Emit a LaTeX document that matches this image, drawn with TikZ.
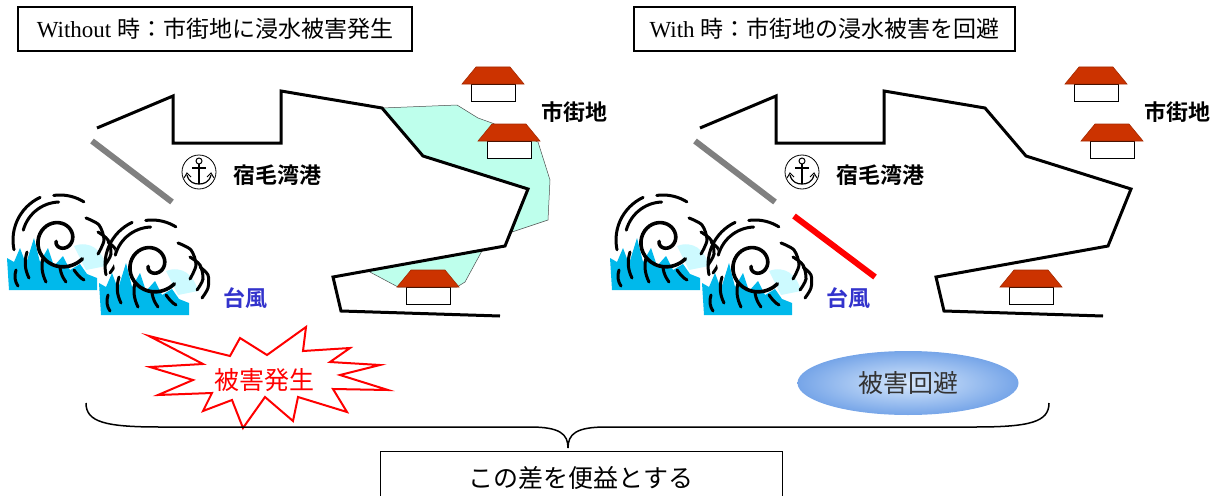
\documentclass[tikz,border=0pt]{standalone}
\usepackage{fontspec}
\setmainfont{Liberation Serif}
\newfontfamily\jp{Noto Sans CJK JP}
\newfontfamily\jpbold{Noto Sans CJK JP Bold}
\usepackage{tikz}
\usetikzlibrary{shapes.geometric}

\definecolor{roofred}{RGB}{204,51,0}
\definecolor{floodcyan}{RGB}{190,255,236}
\definecolor{seablue}{RGB}{0,185,235}
\definecolor{foamcyan}{RGB}{205,250,255}
\definecolor{typhoonblue}{RGB}{51,51,204}
\definecolor{gatebar}{RGB}{128,128,128}

\begin{document}
\begin{tikzpicture}[
  x=1pt, y=-1pt,
  titlebox/.style={draw, line width=1.2pt, minimum height=44, inner sep=0pt, font=\fontsize{23}{27}\selectfont},
  coast/.style={line width=3pt, line join=miter},
  breakwater/.style={line width=6pt},
  flood/.style={fill=floodcyan, draw=black!70, line width=0.5pt},
  place/.style={font=\jpbold\fontsize{22}{26}\selectfont},
  wavestroke/.style={line width=3pt, line cap=round},
  house/.pic={
    \draw[fill=white, line width=0.8pt] (-22,0) rectangle (22,17);
    \fill[roofred, draw=roofred!80!black, line width=0.6pt] (-31,0) -- (31,0) -- (17,-17) -- (-17,-17) -- cycle;
  },
  harbour/.pic={
    \draw[line width=0.8pt, fill=white] (0,0) circle[radius=17];
    \draw[line width=1pt] (0,-11) circle[radius=3];
    \draw[line width=1.3pt] (0,-8) -- (0,12);
    \draw[line width=1.3pt] (-7,-4) -- (7,-4);
    \draw[line width=1.2pt] (-12,3) .. controls (-10,11) and (-4,12) .. (0,12) .. controls (4,12) and (10,11) .. (12,3);
    \draw[line width=1pt] (-15,6) -- (-12,1) -- (-8,5);
    \draw[line width=1pt] (15,6) -- (12,1) -- (8,5);
  },
  wave/.pic={
    % white curl behind the strokes
    \fill[white] (2,-4) circle[radius=40];
    % sea
    \fill[seablue] (-51,50) -- (-53,18) -- (-46,22) -- (-40,8) -- (-34,24) -- (-26,-2) -- (-20,22)
      -- (-12,8) -- (-6,26) -- (3,16) -- (10,30) -- (20,24) -- (27,34) -- (37,38) -- (37,50) -- cycle;
    \fill[foamcyan] (14,6) .. controls (30,0) and (42,10) .. (46,26) -- (26,30) -- cycle;
    % curl
    \draw[wavestroke, line width=3.6pt] plot[smooth, domain=0:480, samples=50] ({(4+\x/19)*cos(\x+200)}, {-(4+\x/19)*sin(\x+200)});
    \draw[wavestroke] plot[smooth, domain=92:165, samples=16] ({38*cos(\x)}, {-38*sin(\x)});
    \draw[wavestroke] plot[smooth, domain=115:192, samples=16] ({47*cos(\x)}, {-47*sin(\x)});
    \draw[wavestroke] plot[smooth, domain=58:98, samples=10] ({45*cos(\x)}, {-45*sin(\x)});
    % foam lobes on the right
    \draw[wavestroke] plot[smooth] coordinates {(26,-22) (39,-15) (44,0) (38,14)};
    \draw[wavestroke] plot[smooth] coordinates {(38,-8) (48,0) (51,14) (45,25)};
    \draw[wavestroke] plot[smooth] coordinates {(48,2) (56,10) (56,23) (50,33)};
    % spray strokes in the sea
    \draw[wavestroke] (-33,12) .. controls (-36,22) and (-35,30) .. (-31,38);
    \draw[wavestroke] (-17,18) .. controls (-19,26) and (-18,34) .. (-14,42);
    \draw[wavestroke] (0,28) .. controls (1,34) and (3,38) .. (6,42);
    \draw[wavestroke] (14,30) .. controls (17,34) and (20,38) .. (24,40);
    \draw[wavestroke] (-44,30) .. controls (-46,36) and (-45,42) .. (-42,46);
  }
]
\clip (0,0) rectangle (1220,495);

% titles
\node[titlebox, minimum width=394] (without) at (215,29) {Without {\jp 時：市街地に浸水被害発生}};
\node[titlebox, minimum width=381] (with) at (824.5,29) {With {\jp 時：市街地の浸水被害を回避}};

% flooded town (without case only)
\draw[flood] (382,108) -- (457,105) -- (478,118) -- (492,123) -- (538,142) -- (550,180)
  -- (548,220) -- (512,232) -- (528,189) -- (423,156) -- cycle;
\draw[flood] (368,271) -- (483,249) -- (465,282) -- (457,287) -- (398,287) -- cycle;

% bay, houses and waves, same in both panels
\foreach \dx in {0,603} {
  \begin{scope}[xshift=\dx]
    \draw[coast] (97,128) -- (173,96) -- (173,143) -- (281,143) -- (281,91) -- (382,108)
      -- (423,156) -- (528,189) -- (505,246) -- (333,277) -- (341,311) -- (500,316);
    \draw[breakwater, gatebar] (92,141) -- (172,202);
    \pic at (493,84) {house};
    \pic at (509,141) {house};
    \pic at (428,287) {house};
    \pic at (199,172) {harbour};
    \node[place] at (277,175) {宿毛湾港};
    \node[place] at (574,112) {市街地};
    \node[place, text=typhoonblue] at (245,298) {台風};
    \pic at (60,240) {wave};
    \pic at (152,265) {wave};
  \end{scope}
}

% new breakwater
\draw[breakwater, red] (794,216) -- (875,277);

% damage burst
\draw[red, fill=white, line width=2pt, line join=miter] (149,336) -- (230,356) -- (240,338) -- (267,355)
  -- (306,327) -- (303,351) -- (350,348) -- (330,362) -- (380,365) -- (340,375) -- (388,390)
  -- (333,389) -- (347,412) -- (298,397) -- (293,421) -- (265,397) -- (243,428) -- (232,400)
  -- (203,411) -- (212,393) -- (158,395) -- (193,380) -- (150,367) -- (203,364) -- cycle;
\node[text=red, font=\jp\fontsize{25}{28}\selectfont] (damage) at (264,380) {被害発生};

% avoided
\node[ellipse, minimum width=221, minimum height=64, inner color={rgb,255:red,215;green,232;blue,252},
  outer color={rgb,255:red,118;green,165;blue,232}, text=black!80, font=\jp\fontsize{25}{28}\selectfont]
  (avoid) at (908,383) {被害回避};

% brace
\draw[line width=1.5pt] (86,403) .. controls (86,422) and (105,427) .. (160,427) -- (530,427)
  .. controls (560,427) and (568,434) .. (568,448) .. controls (568,434) and (576,427) .. (606,427)
  -- (975,427) .. controls (1030,427) and (1049,422) .. (1049,403);

\node[draw, line width=1pt, minimum width=402, minimum height=54, font=\jp\fontsize{25}{28}\selectfont]
  (benefit) at (581,478) {この差を便益とする};
\end{tikzpicture}
\end{document}
